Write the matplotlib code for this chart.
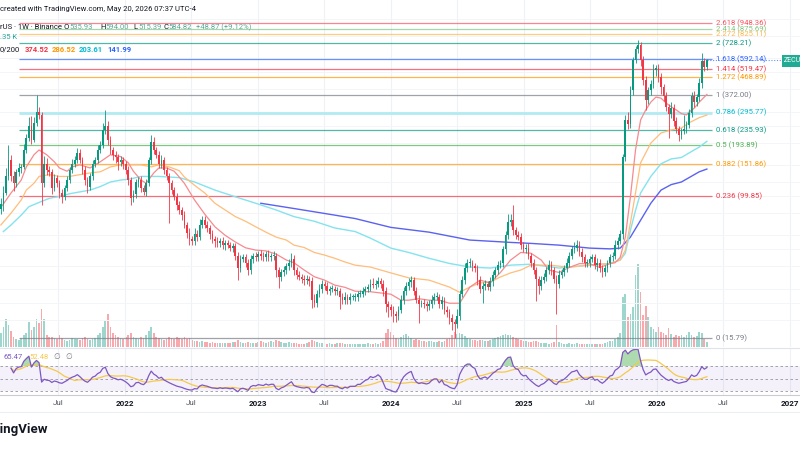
import matplotlib
matplotlib.use("Agg")
import matplotlib.pyplot as plt
import matplotlib.dates as mdates
import matplotlib.transforms as mtransforms
from matplotlib.lines import Line2D
import numpy as np
import pandas as pd

plt.rcParams['font.family'] = ['Roboto', 'DejaVu Sans']

# ZEC / TetherUS, 1W, Binance - weekly candles
first_week = "2021-01-25"
first_open = 84
closes = [
    90, 104, 129, 160, 129, 118, 136, 144, 146, 182,
    212, 249, 207, 258, 300, 288, 118, 152, 140, 136,
    111, 126, 118, 104, 99, 111, 123, 140, 152, 160,
    175, 160, 140, 123, 113, 129, 152, 160, 182, 194,
    236, 249, 207, 182, 171, 166, 156, 160, 152, 140,
    123, 97, 102, 120, 123, 111, 105, 118, 160, 202,
    182, 171, 152, 160, 140, 129, 118, 108, 99, 89,
    83, 78, 69, 62, 57, 56, 61, 59, 69, 73,
    69, 66, 61, 57, 56, 54, 56, 53, 54, 53,
    51, 52, 46, 39, 44, 45, 42, 38, 44, 46,
    45, 47, 46, 45, 47, 45, 46, 46, 38, 35,
    37, 38, 40, 42, 44, 38, 36, 35, 34, 33.5,
    34, 33, 26, 25, 28, 30, 32, 31, 29, 30,
    30, 29, 29, 27, 26, 27, 26, 27, 27, 27,
    28, 28, 29, 30, 30.5, 32, 31.5, 32, 33, 32,
    29, 24.5, 23.5, 22.7, 21.5, 21, 22.7, 26, 29, 31,
    32.5, 33.5, 29, 26, 24.5, 25, 24.5, 24, 24.5, 26,
    27, 27, 24.5, 26, 22.7, 22, 20.5, 19.5, 19, 21,
    28, 33.5, 39, 42, 42, 40, 39, 33.5, 30, 31,
    32, 30.5, 33, 36, 38, 41, 42, 50, 60, 71,
    73, 64, 60, 59, 53, 50, 51, 46, 42, 38,
    34, 31, 33.5, 35, 38, 41, 38, 34, 32, 36,
    37, 39, 42, 46, 50, 51, 53, 48, 45, 42,
    42, 44, 45, 41, 42, 39, 37, 39, 42, 45,
    46, 53, 56, 61, 165, 270, 255, 397, 586, 680,
    710, 586, 452, 348, 397, 430, 515, 530, 470, 410,
    365, 320, 290, 315, 265, 240, 222, 232, 240, 252,
    295, 365, 340, 360, 435, 575, 535.93, 584.82,
]
# wick length above / below the body, in % of the body edge
upper_wick = [
    8, 10, 12, 21, 6, 8, 5, 6, 4, 8,
    6, 12, 14, 8, 24, 6, 4, 10, 8, 5,
    5, 6, 4, 5, 6, 4, 5, 4, 6, 5,
    6, 5, 4, 5, 4, 4, 5, 4, 6, 5,
    10, 23, 6, 5, 4, 5, 4, 5, 4, 4,
    5, 4, 6, 4, 4, 5, 4, 6, 4, 9,
    6, 4, 5, 6, 4, 4, 5, 4, 4, 5,
    5, 4, 5, 4, 6, 4, 8, 6, 7, 5,
    6, 5, 4, 5, 4, 5, 4, 5, 4, 4,
    4, 5, 4, 5, 6, 5, 4, 5, 6, 4,
    5, 4, 6, 5, 4, 5, 4, 6, 4, 5,
    5, 6, 4, 5, 8, 5, 4, 5, 4, 5,
    5, 4, 6, 8, 5, 6, 5, 4, 5, 4,
    5, 4, 5, 4, 5, 6, 4, 5, 4, 5,
    4, 5, 5, 4, 5, 6, 8, 5, 6, 5,
    5, 6, 4, 5, 6, 4, 5, 6, 5, 6,
    6, 5, 4, 5, 6, 4, 5, 4, 5, 6,
    5, 6, 4, 5, 4, 5, 4, 5, 4, 10,
    5, 6, 8, 5, 6, 4, 5, 4, 6, 5,
    5, 4, 6, 5, 4, 5, 4, 5, 6, 12,
    8, 22, 4, 6, 5, 4, 5, 6, 4, 5,
    5, 4, 6, 5, 4, 6, 5, 4, 5, 6,
    5, 4, 6, 5, 4, 8, 6, 5, 6, 4,
    5, 4, 5, 4, 6, 5, 4, 5, 4, 5,
    5, 6, 5, 6, 4, 6, 10, 5, 4, 4,
    7, 4, 5, 6, 4, 5, 8, 4, 5, 6,
    5, 6, 4, 8, 5, 6, 4, 5, 20, 5,
    5, 6, 8, 5, 6, 12, 4, 1.6,
]
lower_wick = [
    6, 8, 3, 4, 6, 10, 5, 4, 6, 3,
    4, 4, 5, 3, 4, 6, 25, 5, 6, 5,
    8, 4, 5, 6, 8, 4, 4, 4, 4, 4,
    4, 4, 5, 6, 8, 4, 4, 4, 4, 4,
    4, 5, 6, 5, 6, 8, 10, 5, 6, 5,
    6, 8, 5, 4, 6, 5, 4, 5, 4, 5,
    5, 4, 5, 5, 5, 5, 40, 5, 4, 6,
    5, 6, 5, 6, 7, 5, 5, 6, 4, 5,
    4, 5, 6, 5, 8, 5, 4, 5, 6, 4,
    4, 5, 5, 14, 5, 4, 5, 6, 4, 5,
    4, 4, 5, 4, 5, 4, 4, 5, 8, 14,
    5, 4, 5, 4, 5, 6, 5, 4, 5, 6,
    5, 6, 10, 6, 5, 4, 5, 5, 4, 5,
    4, 5, 5, 15, 6, 5, 6, 5, 4, 5,
    5, 4, 4, 5, 4, 5, 4, 5, 4, 5,
    6, 10, 12, 8, 10, 8, 5, 4, 5, 5,
    5, 6, 5, 4, 22, 4, 5, 6, 5, 5,
    5, 4, 5, 6, 5, 6, 8, 10, 17, 6,
    5, 4, 5, 4, 5, 6, 5, 6, 5, 17,
    5, 4, 5, 6, 4, 5, 4, 5, 6, 5,
    5, 6, 5, 4, 5, 4, 5, 4, 6, 5,
    25, 10, 5, 4, 5, 4, 6, 5, 33, 5,
    4, 5, 4, 5, 4, 5, 4, 5, 6, 5,
    5, 6, 4, 5, 8, 5, 6, 5, 4, 5,
    5, 4, 5, 4, 6, 5, 6, 5, 6, 4,
    5, 8, 6, 12, 5, 6, 5, 8, 6, 8,
    6, 5, 27, 5, 6, 5, 8, 5, 4, 5,
    4, 5, 6, 5, 4, 6, 5, 3.8,
]
# weekly volume (x10k ZEC)
volume = [
    14, 20, 28, 22, 16, 10, 8, 7, 9, 12,
    14, 25, 17, 20, 28, 24, 38, 28, 12, 10,
    10, 9, 8, 12, 9, 7, 6, 7, 9, 8,
    8, 7, 9, 10, 8, 7, 8, 9, 12, 14,
    20, 26, 33, 20, 14, 12, 10, 9, 8, 10,
    12, 14, 10, 9, 8, 10, 9, 12, 16, 20,
    14, 10, 9, 8, 7, 8, 10, 9, 8, 10,
    9, 8, 10, 8, 9, 7, 6, 6, 5, 6,
    5, 5, 4, 5, 4, 4, 4, 4, 4, 4,
    4, 5, 5, 7, 5, 4, 4, 5, 4, 4,
    4, 5, 6, 5, 4, 5, 6, 5, 7, 6,
    5, 4, 4, 5, 4, 4, 4, 3, 3, 3,
    4, 5, 7, 6, 5, 4, 4, 3, 3, 4,
    3, 3, 4, 4, 4, 3, 3, 3, 3, 3,
    3, 3, 3, 3, 4, 3, 3, 4, 3, 4,
    6, 14, 18, 15, 12, 9, 8, 10, 12, 13,
    11, 9, 7, 8, 7, 6, 6, 5, 6, 6,
    5, 5, 6, 5, 6, 8, 9, 12, 15, 13,
    14, 13, 11, 9, 8, 7, 7, 6, 7, 7,
    6, 6, 7, 8, 9, 10, 11, 12, 13, 12,
    12, 10, 9, 8, 7, 6, 6, 5, 5, 6,
    6, 5, 4, 4, 4, 3, 4, 5, 22, 5,
    4, 3, 3, 4, 3, 3, 4, 3, 3, 3,
    3, 3, 3, 3, 3, 3, 3, 4, 5, 6,
    6, 8, 10, 14, 50, 53, 30, 33, 40, 71,
    82, 55, 32, 41, 30, 20, 18, 15, 20, 15,
    14, 12, 19, 13, 10, 12, 11, 12, 10, 12,
    15, 12, 10, 11, 15, 14, 8, 5,
]

# moving averages 20/50/100/200, read at these week numbers
ma20_idx = [0, 4, 8, 10, 13, 15, 18, 21, 23, 26, 28, 31, 35, 39, 43, 47, 50, 52, 55, 57,
            60, 62, 65, 68, 70, 72, 76, 80, 84, 88, 92, 96, 100, 104, 108, 112, 115, 119, 123, 127,
            131, 135, 139, 145, 153, 157, 160, 164, 168, 172, 176, 180, 184, 188, 192, 196, 200, 204, 208, 212,
            215, 219, 223, 227, 231, 235, 239, 241, 243, 245, 247, 249, 251, 253, 255, 257, 259, 261, 263, 265,
            267, 269, 270, 272, 274, 277]
ma20 = [86, 104, 123, 146, 171, 182, 171, 156, 144, 138, 146, 150, 144, 156, 171, 167, 154, 138, 123, 118,
        135, 144, 144, 138, 128, 118, 95, 79, 67, 60, 55, 51, 49.5, 49, 47, 43.5, 42, 38.2, 35, 33.5,
        31.4, 30.5, 29, 28.8, 27.9, 25.8, 25.8, 26.3, 25.8, 25.8, 24.8, 24.8, 30.6, 33.5, 32.3, 37, 43.5, 48, 47.5, 43.5,
        38.2, 37, 39.5, 41.5, 41.5, 39.5, 41.5, 42, 45, 58.6, 99, 182, 269, 306, 339, 362, 357, 335, 319, 306,
        292, 287, 298, 313, 339, 374.52]
ma50_idx = [0, 4, 8, 10, 13, 15, 19, 23, 27, 31, 35, 39, 43, 47, 55, 59, 62, 66, 70, 72,
            76, 80, 84, 88, 92, 96, 100, 104, 108, 112, 115, 119, 123, 127, 131, 135, 139, 145, 153, 160,
            168, 176, 180, 184, 188, 192, 196, 200, 204, 208, 215, 223, 231, 239, 243, 245, 247, 249, 251, 253,
            255, 259, 263, 267, 270, 274, 277]
ma50 = [68.6, 80, 95, 108, 118, 129, 132, 129, 129, 132, 135, 137, 146, 150, 150, 146, 150, 146, 139, 128,
        115, 104, 91, 83.4, 76.5, 72, 67, 62.5, 58.6, 56.4, 52.8, 51.2, 48, 46.4, 44.5, 42.4, 40.7, 39.7, 36.8, 34.5,
        33.5, 30.6, 28.6, 30.6, 32.3, 32.6, 34.9, 36.8, 38.2, 40.7, 40.7, 39.7, 40.7, 41.6, 43.5, 49.5, 70.5, 104, 154, 175,
        199, 227, 236, 242, 259, 277, 286.52]
ma100_idx = [1, 4, 8, 11, 15, 19, 23, 27, 31, 35, 39, 43, 47, 51, 55, 62, 70, 76, 84, 92,
             100, 108, 115, 123, 131, 139, 145, 153, 160, 168, 176, 184, 192, 200, 208, 219, 231, 239, 243, 245,
             247, 249, 251, 255, 259, 263, 267, 270, 274, 277]
ma100 = [63, 68.6, 78, 87, 92, 97, 99.5, 103, 105.5, 108, 113, 120, 123, 125, 129, 129, 127, 120, 108, 99,
         91, 83.4, 76.5, 72, 66, 63, 57.8, 50.8, 48, 44.5, 41.6, 39.7, 39.2, 40.7, 41.2, 39.2, 40.7, 41.6, 43.5, 47.5,
         64, 83, 104, 129, 152, 162, 165, 175, 189, 203.61]
ma200_idx = [102, 115, 131, 139, 153, 168, 184, 200, 208, 219, 231, 239, 243, 247, 251, 255, 259, 263, 267, 270,
             274, 277]
ma200 = [91, 85, 78, 74.6, 66.5, 62.5, 56.4, 54.7, 54, 52.8, 50.8, 50.3, 50.8, 58.6, 73, 91, 108, 116, 120, 127,
         137, 141.99]

# fib retracement drawing
fib_ratios = ["2.618", "2.414", "2.272", "2", "1.618", "1.414", "1.272", "1", "0.786", "0.618", "0.5", "0.382", "0.236", "0"]
fib_prices = [948.36, 875.69, 825.11, 728.21, 592.14, 519.47, 468.89, 372.00, 295.77, 235.93, 193.89, 151.86, 99.85, 15.79]
fib_colors = ["#f7525f", "#81c784", "#ffb74d", "#089981", "#2962ff", "#f23645", "#ff9800",
              "#787b86", "#00bcd4", "#089981", "#4caf50", "#ff9800", "#f23645", "#787b86"]
fib_start, fib_end, fib_label_at = "2021-03-15", "2026-06-01", "2026-06-12"

tick_dates = ["2021-07-01", "2022-01-01", "2022-07-01", "2023-01-01", "2023-07-01", "2024-01-01",
              "2024-07-01", "2025-01-01", "2025-07-01", "2026-01-01", "2026-07-01", "2027-01-01"]
tick_labels = ["Jul", "2022", "Jul", "2023", "Jul", "2024", "Jul", "2025", "Jul", "2026", "Jul", "2027"]
grid_prices = [20, 25, 30, 40, 50, 60, 80, 100, 120, 150, 200, 250, 300, 400, 500, 600, 800, 1000]

UP, DOWN = "#089981", "#f23645"

# ---- derived series
c = np.array(closes, dtype=float)
o = np.r_[first_open, c[:-1]]
hi = np.maximum(o, c) * (1 + np.array(upper_wick) / 100)
lo = np.minimum(o, c) * (1 - np.array(lower_wick) / 100)
dates = pd.date_range(first_week, periods=len(c), freq="7D")
x = mdates.date2num(dates)
up = c >= o

# RSI 14 and its 14-period average
s = pd.Series(c)
d = s.diff()
ag = d.clip(lower=0).ewm(alpha=1 / 14, min_periods=4).mean()
al = (-d.clip(upper=0)).ewm(alpha=1 / 14, min_periods=4).mean()
rsi = (100 - 100 / (1 + ag / al)).to_numpy()
rsi_ma = pd.Series(rsi).rolling(14, min_periods=1).mean().to_numpy()

# ---- layout (800x450)
fig = plt.figure(figsize=(8, 4.5), dpi=100)
fig.patch.set_facecolor("white")


def fy(py):
    return 1 - py / 450


ref = mdates.date2num(pd.Timestamp("2022-01-01"))
xlim = (ref - 125 / 133 * 365.25, ref + 675 / 133 * 365.25)

axv = fig.add_axes([0, fy(347), 1, 347 / 450])
ax = fig.add_axes([0, fy(347), 1, 347 / 450])
ax_rsi = fig.add_axes([0, fy(395), 1, 47 / 450])
for a in (ax, axv, ax_rsi):
    a.set_xlim(xlim)
    a.axis("off")
ax.patch.set_visible(False)

# grid
for t in tick_dates:
    ax.axvline(mdates.datestr2num(t), color="#eef1f6", lw=0.8, zorder=0)
    ax_rsi.axvline(mdates.datestr2num(t), color="#eef1f6", lw=0.8, zorder=0)

ax.set_yscale("log")
ax.set_ylim(14.04, 1279)
for p in grid_prices:
    ax.axhline(p, color="#f3f5f9", lw=0.7, zorder=0)

# volume
vcol = np.where(up, "#9ed6cd", "#f7a9ae")
axv.bar(x, volume, width=4.6, color=vcol, zorder=1)
axv.set_ylim(0, max(volume) * 4.2)

# fib levels
xs, xe, xlab = (mdates.datestr2num(v) for v in (fib_start, fib_end, fib_label_at))
for r, p, col in zip(fib_ratios, fib_prices, fib_colors):
    if r == "0.786":
        ax.hlines(p, xs, xe, color="#b2ebf2", lw=2.0, zorder=2)
    else:
        ax.hlines(p, xs, xe, color=col, lw=0.9, alpha=0.7, zorder=2)
    ax.text(xlab, p, f"{r} ({p:.2f})", color=col, fontsize=5.6, va="center", ha="left")

# moving averages
ax.plot(dates[ma200_idx], ma200, color="#5b62f0", lw=1.0, zorder=3)
ax.plot(dates[ma100_idx], ma100, color="#84e3ee", lw=1.0, zorder=3)
ax.plot(dates[ma50_idx], ma50, color="#ffbd7a", lw=0.9, zorder=3)
ax.plot(dates[ma20_idx], ma20, color="#f78a8f", lw=0.9, zorder=3)

# candles
col = np.where(up, UP, DOWN)
ax.vlines(x, lo, hi, color=col, lw=0.6, zorder=4)
body_lo = np.minimum(o, c)
body_h = np.maximum(np.abs(c - o), body_lo * 0.01)
ax.bar(x, body_h, bottom=body_lo, width=4.6, color=col, zorder=5)

# last price line + tag
ax.hlines(c[-1], x[-1], xlim[1], color="#2962ff", lw=0.8, ls=(0, (1, 1.5)), alpha=0.7, zorder=2)
fig.text(784 / 800, fy(61), "ZECUSDT", color="white", fontsize=5, va="center", ha="left",
         bbox=dict(fc="#22ab94", ec="none", pad=1.6))

# RSI pane
ax_rsi.set_ylim(23.6, 98.8)
ax_rsi.axhspan(30, 70, color="#7e57c2", alpha=0.08, lw=0)
for lvl in (70, 50, 30):
    ax_rsi.axhline(lvl, color="#9598a1", lw=0.6, ls=(0, (3, 3)))
ax_rsi.fill_between(x, rsi, 70, where=rsi > 70, color="#4caf50", alpha=0.45, lw=0, interpolate=True)
ax_rsi.plot(x, rsi_ma, color="#f5c94c", lw=0.9)
ax_rsi.plot(x, rsi, color="#7e57c2", lw=0.9)

# separators
for py, lc in ((347.5, "#e0e3eb"), (395, "#c9ccd4"), (412, "#eceef2")):
    fig.add_artist(Line2D([0, 1], [fy(py), fy(py)], color=lc, lw=0.8))

# time axis
tr = mtransforms.blended_transform_factory(ax_rsi.transData, fig.transFigure)
for t, lab in zip(tick_dates, tick_labels):
    year = lab != "Jul"
    ax_rsi.text(mdates.datestr2num(t), fy(403), lab, transform=tr, ha="center", va="center",
                fontsize=5.8, color="#131722" if year else "#50535e",
                fontweight="bold" if year else "normal")

# header / legends
fs = 5.5
fig.text(0, fy(9), "created with TradingView.com, May 20, 2026 07:37 UTC-4",
         fontsize=fs, color="#131722", va="center")
fig.text(0, fy(27), "rUS · 1W · Binance", fontsize=fs, color="#131722", va="center")
for letter, val, px in (("O", "535.93", 64), ("H", "594.00", 100), ("L", "515.39", 133), ("C", "584.82", 163)):
    fig.text(px / 800, fy(27), letter, fontsize=fs, color="#131722", va="center")
    fig.text((px + 5) / 800, fy(27), val, fontsize=fs, color="#5fa89c", va="center")
fig.text(196 / 800, fy(27), "+48.87 (+9.12%)", fontsize=fs, color="#5fa89c", va="center")
fig.text(0, fy(37), ".35 K", fontsize=fs, color="#26a69a", va="center")
fig.text(0, fy(49), "0/200", fontsize=fs, color="#131722", va="center")
for val, cc, px in (("374.52", "#f23645", 25), ("286.52", "#ff9800", 52),
                    ("203.61", "#00bcd4", 79), ("141.99", "#2962ff", 107)):
    fig.text(px / 800, fy(49), val, fontsize=fs, color=cc, va="center", fontweight="bold")
fig.text(3 / 800, fy(357), "65.47", fontsize=fs, color="#7e57c2", va="center")
fig.text(29 / 800, fy(357), "52.48", fontsize=fs, color="#f5c94c", va="center")
fig.text(53 / 800, fy(357), "∅", fontsize=fs, color="#787b86", va="center")
fig.text(65 / 800, fy(357), "∅", fontsize=fs, color="#787b86", va="center")

fig.text(48 / 800, fy(430), "TradingView", fontsize=9.5, color="#131722", va="center", ha="right",
         fontweight="bold")

fig.savefig("out.png", dpi=100)
